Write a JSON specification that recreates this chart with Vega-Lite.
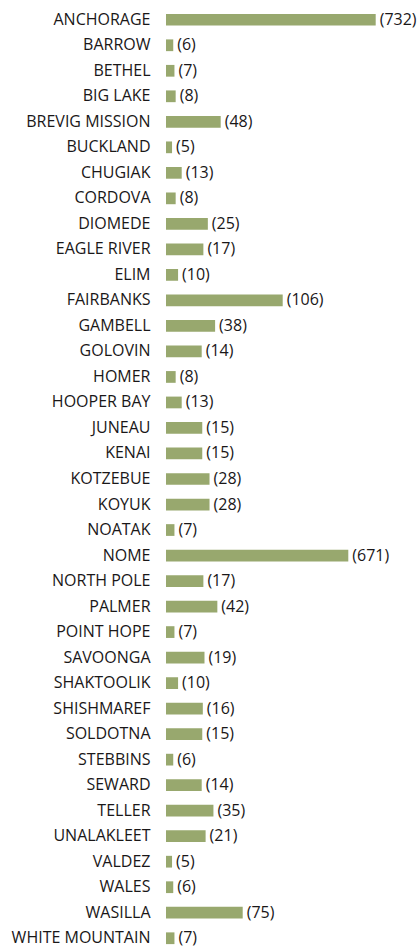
{
  "$schema": "https://vega.github.io/schema/vega-lite/v6.json",
  "autosize": {"type": "none"},
  "width": 251,
  "height": 944,
  "padding": {"left": 166, "top": 7, "right": 0, "bottom": 0},
  "background": "white",
  "config": {"view": {"stroke": null}, "font": "Open Sans"},
  "data": {"values": [
    {"city": "ANCHORAGE", "count": 732},
    {"city": "BARROW", "count": 6},
    {"city": "BETHEL", "count": 7},
    {"city": "BIG LAKE", "count": 8},
    {"city": "BREVIG MISSION", "count": 48},
    {"city": "BUCKLAND", "count": 5},
    {"city": "CHUGIAK", "count": 13},
    {"city": "CORDOVA", "count": 8},
    {"city": "DIOMEDE", "count": 25},
    {"city": "EAGLE RIVER", "count": 17},
    {"city": "ELIM", "count": 10},
    {"city": "FAIRBANKS", "count": 106},
    {"city": "GAMBELL", "count": 38},
    {"city": "GOLOVIN", "count": 14},
    {"city": "HOMER", "count": 8},
    {"city": "HOOPER BAY", "count": 13},
    {"city": "JUNEAU", "count": 15},
    {"city": "KENAI", "count": 15},
    {"city": "KOTZEBUE", "count": 28},
    {"city": "KOYUK", "count": 28},
    {"city": "NOATAK", "count": 7},
    {"city": "NOME", "count": 671},
    {"city": "NORTH POLE", "count": 17},
    {"city": "PALMER", "count": 42},
    {"city": "POINT HOPE", "count": 7},
    {"city": "SAVOONGA", "count": 19},
    {"city": "SHAKTOOLIK", "count": 10},
    {"city": "SHISHMAREF", "count": 16},
    {"city": "SOLDOTNA", "count": 15},
    {"city": "STEBBINS", "count": 6},
    {"city": "SEWARD", "count": 14},
    {"city": "TELLER", "count": 35},
    {"city": "UNALAKLEET", "count": 21},
    {"city": "VALDEZ", "count": 5},
    {"city": "WALES", "count": 6},
    {"city": "WASILLA", "count": 75},
    {"city": "WHITE MOUNTAIN", "count": 7}
  ]},
  "transform": [{"calculate": "'(' + datum.count + ')'", "as": "label"}],
  "encoding": {
    "y": {"field": "city", "type": "nominal", "sort": null,
      "scale": {"paddingInner": 0.54, "paddingOuter": 0.27},
      "axis": {"title": null, "domain": false, "ticks": false, "labelPadding": 16,
        "labelFont": "Open Sans", "labelFontSize": 16, "labelColor": "#1a1718"}},
    "x": {"field": "count", "type": "quantitative",
      "scale": {"domain": [0, 13, 14, 48, 75, 106, 671, 732],
                "range": [0, 15.7, 35.7, 54.7, 76.7, 116.7, 182.3, 209.7], "clamp": true},
      "axis": null}
  },
  "layer": [
    {"mark": {"type": "bar", "color": "#98a86e"}},
    {"mark": {"type": "text", "align": "left", "baseline": "middle", "dx": 4,
      "font": "Open Sans", "fontSize": 16, "color": "#1a1718"},
     "encoding": {"text": {"field": "label"}}}
  ]
}
